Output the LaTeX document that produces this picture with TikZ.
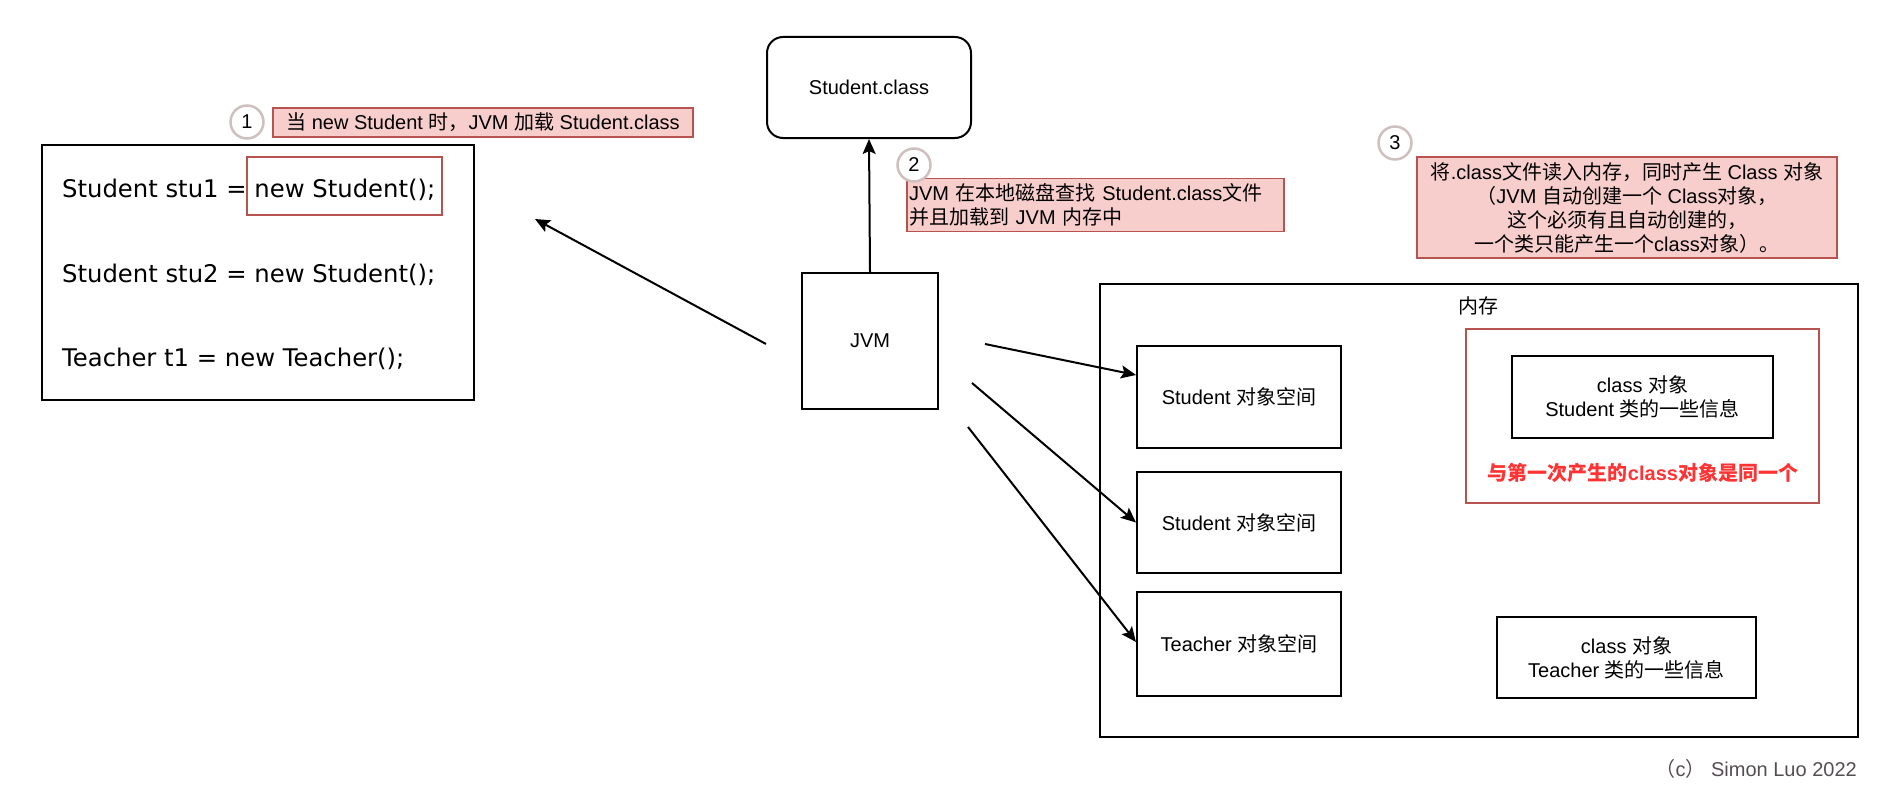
\documentclass[tikz,border=0pt]{standalone}
\usepackage{fontspec}
\setmainfont{Liberation Sans}
\newfontfamily\cjk{Noto Sans CJK SC}
\newfontfamily\codefont{DejaVu Sans}
\usetikzlibrary{arrows.meta}
\definecolor{lblfill}{HTML}{F8CECC}
\definecolor{lbldraw}{HTML}{B85450}
\definecolor{circdraw}{HTML}{D0BFBF}
\definecolor{hot}{HTML}{FF3333}
\definecolor{copytext}{HTML}{544E52}
\newcommand{\zh}[1]{{\cjk #1}}
\begin{document}
\begin{tikzpicture}[x=1pt,y=-1pt,
  every node/.style={font=\fontsize{20}{24}\selectfont, inner sep=0pt},
  box/.style={draw, line width=2pt},
  lbl/.style={draw=lbldraw, fill=lblfill, line width=1.5pt},
  num/.style={circle, draw=circdraw, line width=2.5pt, fill=white, minimum size=33pt},
  codeline/.style={anchor=west, font=\codefont\fontsize{24.3}{28}\selectfont},
  arr/.style={line width=2pt, -{Stealth[length=15pt,width=13pt,inset=3pt]}}]
\useasboundingbox (0,0) rectangle (1892,808);

% code box
\node[box, line width=2.5pt, minimum width=432pt, minimum height=255pt] (code) at (258,272.5) {};
\node[codeline] (cl1) at (62,190) {Student stu1 = new Student();};
\node[codeline] (cl2) at (62,275) {Student stu2 = new Student();};
\node[codeline] (cl3) at (62,359) {Teacher t1 = new Teacher();};
\node[draw=lbldraw, line width=1.5pt, minimum width=195pt, minimum height=58pt] (nbox) at (344.5,186) {};

% label 1
\node[lbl, minimum width=420pt, minimum height=29pt] (lab1) at (483,122.5)
  {\zh{当} new Student \zh{时，}JVM \zh{加载} Student.class};
\node[num] (c1) at (247,122) {1};

% Student.class and JVM
\node[box, rounded corners=16pt, minimum width=204pt, minimum height=101pt] (scls) at (869,87.5) {Student.class};
\node[box, minimum width=136pt, minimum height=136pt] (jvm) at (870,341) {JVM};

% label 2
\node[lbl, minimum width=377pt, minimum height=53pt, text width=373pt, inner xsep=2pt, align=left] (lab2) at (1095.5,205)
  {JVM \zh{在本地磁盘查找} Student.class\zh{文件}\\\zh{并且加载到} JVM \zh{内存中}};
\node[num] (c2) at (914,165) {2};

% label 3
\node[lbl, minimum width=420pt, minimum height=101pt, align=center] (lab3) at (1627,207.5)
  {\zh{将}.class\zh{文件读入内存，同时产生} Class \zh{对象}\\
   \zh{（}JVM \zh{自动创建一个} Class\zh{对象，}\\
   \zh{这个必须有且自动创建的，}\\
   \zh{一个类只能产生一个}class\zh{对象）。}};
\node[num] (c3) at (1395,143) {3};

% memory
\node[box, minimum width=758pt, minimum height=453pt] (mem) at (1479,510.5) {};
\node (memlbl) at (1478,306) {\zh{内存}};
\node[draw=lbldraw, line width=1.5pt, minimum width=353pt, minimum height=174pt] (same) at (1642.5,416) {};
\node[box, minimum width=261pt, minimum height=82pt, align=center] (clsS) at (1642.5,397)
  {class \zh{对象}\\Student \zh{类的一些信息}};
\node[text=hot, font=\bfseries\fontsize{20}{24}\selectfont] (sametxt) at (1643,473)
  {{\cjk\bfseries 与第一次产生的}class{\cjk\bfseries 对象是同一个}};
\node[box, minimum width=259pt, minimum height=81pt, align=center] (clsT) at (1626.5,657.5)
  {class \zh{对象}\\Teacher \zh{类的一些信息}};

\node[box, minimum width=204pt, minimum height=102pt] (objS1) at (1239,397) {Student \zh{对象空间}};
\node[box, minimum width=204pt, minimum height=101pt] (objS2) at (1239,522.5) {Student \zh{对象空间}};
\node[box, minimum width=204pt, minimum height=104pt] (objT) at (1239,644) {Teacher \zh{对象空间}};

% copyright
\node[anchor=east, text=copytext] (copy) at (1857,769) {\zh{（}c\zh{）} Simon Luo 2022};

% arrows
\coordinate (a0) at (766,344);
\coordinate (a0e) at (535,219);
\draw[arr] (a0) -- (a0e);
\draw[arr] (jvm.north) -- (scls.south);
\coordinate (b1) at (985,344);
\coordinate (b2) at (972,383);
\coordinate (b3) at (968,427);
\draw[arr] (b1) -- ([yshift=22pt]objS1.west);
\draw[arr] (b2) -- (objS2.west);
\draw[arr] (b3) -- ([yshift=2pt]objT.west);
\end{tikzpicture}
\end{document}
